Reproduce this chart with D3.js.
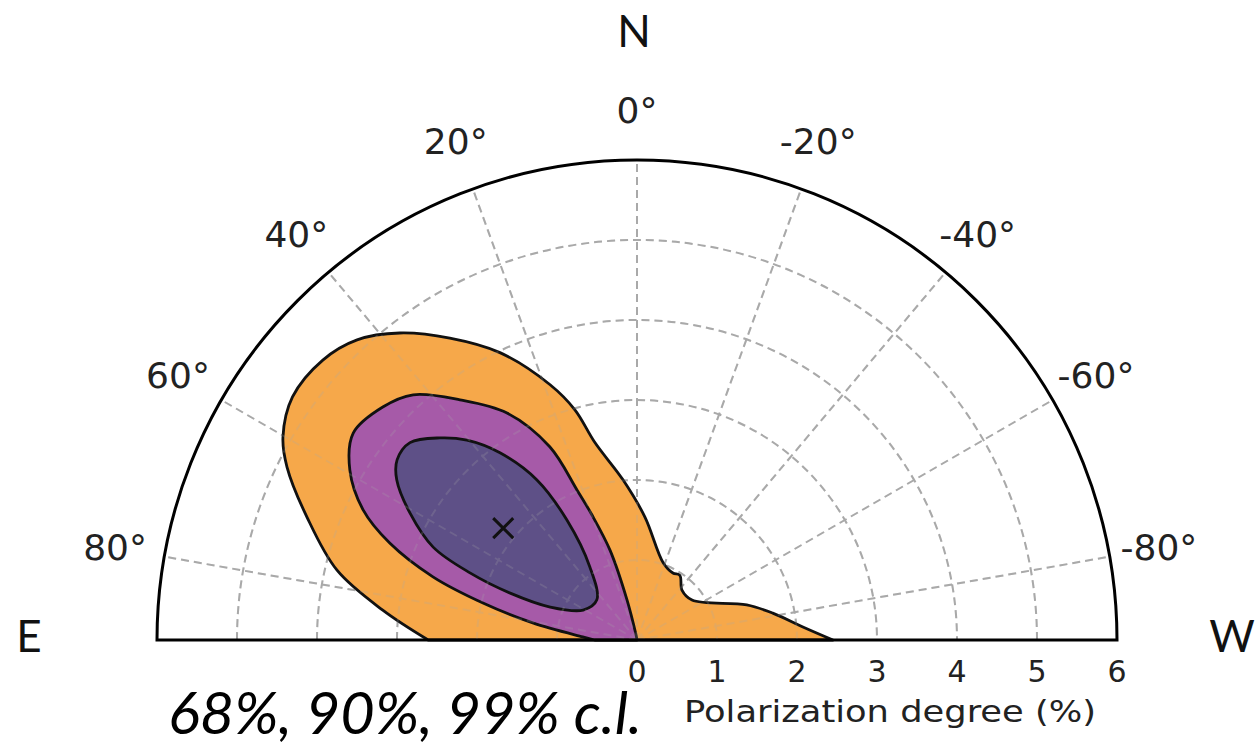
<!DOCTYPE html>
<html>
<head>
<meta charset="utf-8">
<script src="https://cdn.jsdelivr.net/npm/d3@7"></script>
<style>
  html, body { margin: 0; padding: 0; background: #fff; }
  svg { display: block; }
</style>
</head>
<body>
<svg id="chart" width="1257" height="747"></svg>
<script>
// Polarization angle (deg, positive towards E) and degree (%) along each confidence contour
const contour99 = [
  [90, 2.61], [83.3, 3.20], [76.9, 3.85], [69.6, 4.40], [63.7, 4.88], [60.2, 5.10],
  [54.8, 5.27], [48.3, 5.26], [43.0, 5.13], [37.7, 4.85], [31.8, 4.44], [25.5, 3.98],
  [18.8, 3.37], [15.1, 2.98], [12.0, 2.52], [5.0, 2.01], [-3.7, 1.54], [-18.7, 1.02],
  [-28.2, 0.95], [-33.5, 0.97], [-42.0, 0.84], [-54.0, 0.85], [-72.3, 1.44],
  [-78.8, 1.73], [-85.5, 2.08], [-90, 2.45]
];
const contour90 = [
  [90, 0.53], [86.8, 0.68], [80.7, 1.32], [76.5, 1.98], [72.8, 2.67], [68.6, 3.32],
  [64.6, 3.79], [59.4, 4.17], [53.9, 4.39], [47.5, 4.31], [42.4, 4.15], [36.4, 3.73],
  [29.8, 3.27], [24.3, 2.65], [21.8, 2.02], [19.8, 1.66], [16.7, 1.17], [14.0, 0.52],
  [10.0, 0.06]
];
const contour68 = [
  [53.1, 3.75], [49.0, 3.76], [44.3, 3.53], [40.4, 3.28], [36.2, 2.90], [32.0, 2.36],
  [30.3, 1.74], [32.8, 1.09], [45.0, 0.71], [60.9, 0.77], [69.2, 1.16], [69.7, 1.69],
  [68.1, 2.25], [65.5, 2.80], [60.8, 3.25], [56.3, 3.61]
];
const bestFit = [50.1, 2.18];

const angleTicks = [80, 60, 40, 20, 0, -20, -40, -60, -80];
const degreeTicks = [0, 1, 2, 3, 4, 5, 6];
const gridDegrees = [1, 2, 3, 4, 5];
const levelColors = { c99: "#f6a84a", c90: "#a65aa8", c68: "#5e5087" };

const svg = d3.select("#chart");
const cx = 637, cy = 640, R = 480;
const r = d3.scaleLinear().domain([0, 6]).range([0, R]);
const toRad = a => -a * Math.PI / 180;   // east (positive) is drawn to the left
const px = (a, v) => [-r(v) * Math.sin(a * Math.PI / 180), -r(v) * Math.cos(a * Math.PI / 180)];

const g = svg.append("g").attr("transform", `translate(${cx},${cy})`);

function drawGrid(layer, opacity) {
  const gg = layer.append("g")
    .attr("fill", "none").attr("stroke", "#a9a9a9")
    .attr("stroke-width", 2).attr("stroke-dasharray", "8,5")
    .attr("opacity", opacity);
  gg.selectAll("path.ring").data(gridDegrees).join("path")
    .attr("class", "ring")
    .attr("d", d => `M${-r(d)},0 A${r(d)},${r(d)} 0 0 1 ${r(d)},0`);
  gg.selectAll("line.spoke").data(angleTicks).join("line")
    .attr("class", "spoke")
    .attr("x1", 0).attr("y1", 0)
    .attr("x2", d => px(d, 6)[0]).attr("y2", d => px(d, 6)[1]);
}

drawGrid(g, 1);

const outline = d3.lineRadial()
  .angle(d => toRad(d[0])).radius(d => r(d[1]))
  .curve(d3.curveCatmullRom.alpha(0.5));
const loop = d3.lineRadial()
  .angle(d => toRad(d[0])).radius(d => r(d[1]))
  .curve(d3.curveCatmullRomClosed.alpha(0.5));

const contours = g.append("g")
  .attr("stroke", "#111").attr("stroke-width", 2.8).attr("stroke-linejoin", "round");
contours.append("path").attr("fill", levelColors.c99).attr("d", outline(contour99) + "L0,0Z");
contours.append("path").attr("fill", levelColors.c90).attr("d", outline(contour90) + "L0,0Z");
contours.append("path").attr("fill", levelColors.c68).attr("d", loop(contour68));

// faint grid showing through the filled regions
drawGrid(g, 0.22);

// best-fit marker
const bf = px(bestFit[0], bestFit[1]);
g.append("path")
  .attr("d", `M${bf[0] - 10},${bf[1] - 10}L${bf[0] + 10},${bf[1] + 10}M${bf[0] - 10},${bf[1] + 10}L${bf[0] + 10},${bf[1] - 10}`)
  .attr("stroke", "#111").attr("stroke-width", 3).attr("fill", "none");

// plot frame: outer arc and baseline
g.append("path")
  .attr("d", `M${-r(6)},0 A${r(6)},${r(6)} 0 0 1 ${r(6)},0 Z`)
  .attr("fill", "none").attr("stroke", "#000").attr("stroke-width", 3);

// angle labels
g.selectAll("text.ang").data(angleTicks).join("text")
  .attr("class", "ang")
  .attr("x", d => -530 * Math.sin(d * Math.PI / 180))
  .attr("y", d => -530 * Math.cos(d * Math.PI / 180))
  .attr("text-anchor", "middle").attr("dominant-baseline", "central")
  .attr("font-family", "DejaVu Sans").attr("font-size", 36).attr("fill", "#222")
  .text(d => `${d}°`);

// degree labels along the baseline
g.selectAll("text.deg").data(degreeTicks).join("text")
  .attr("class", "deg")
  .attr("x", d => r(d)).attr("y", 42)
  .attr("text-anchor", "middle")
  .attr("font-family", "DejaVu Sans").attr("font-size", 30).attr("fill", "#222")
  .text(d => d);

svg.append("text")
  .attr("x", 890).attr("y", 722).attr("text-anchor", "middle")
  .attr("font-family", "DejaVu Sans").attr("font-size", 30).attr("fill", "#222")
  .attr("textLength", 412).attr("lengthAdjust", "spacingAndGlyphs")
  .text("Polarization degree (%)");

svg.append("text")
  .attr("x", 168).attr("y", 734)
  .attr("font-family", "Lato").attr("font-style", "italic").attr("font-size", 58).attr("fill", "#000")
  .attr("textLength", 474).attr("lengthAdjust", "spacingAndGlyphs")
  .text("68%, 90%, 99% c.l.");

const compass = [["N", 634, 47], ["E", 29, 652], ["W", 1232, 652]];
svg.selectAll("text.cmp").data(compass).join("text")
  .attr("class", "cmp")
  .attr("x", d => d[1]).attr("y", d => d[2]).attr("text-anchor", "middle")
  .attr("font-family", "Lato").attr("font-size", 44).attr("fill", "#111")
  .text(d => d[0]);
</script>
</body>
</html>
